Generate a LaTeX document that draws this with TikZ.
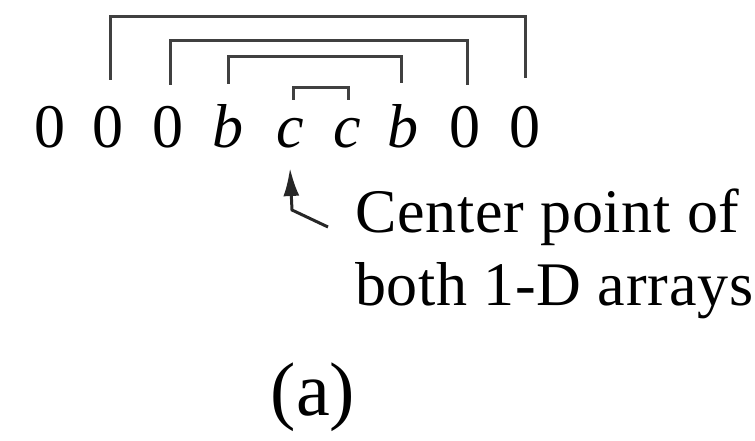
\documentclass[tikz,border=0pt]{standalone}
\usepackage{fontspec}
\setmainfont{Liberation Serif}
\usetikzlibrary{arrows.meta}
\begin{document}
\begin{tikzpicture}[x=1pt,y=-1pt,
  ch/.style={anchor=base,inner sep=0pt,font=\rmfamily\fontsize{62}{72}\selectfont},
  brk/.style={line width=3pt,draw=black!75,line join=miter},
  ptr/.style={line width=3pt,draw=black!85,-{Latex[length=28pt,width=16pt]}},
  lbl/.style={anchor=base west,inner sep=0pt,font=\rmfamily\fontsize{62}{72}\selectfont\addfontfeature{LetterSpace=1.2}},
  captext/.style={anchor=base,inner sep=0pt,font=\rmfamily\fontsize{76}{80}\selectfont}]
\useasboundingbox (0,0) rectangle (755,441);
% the sequence
\node[ch] (n1) at (50,148) {0};
\node[ch] (n2) at (108,148) {0};
\node[ch] (n3) at (168,148) {0};
\node[ch] (n4) at (228,148) {\textit{b}};
\node[ch] (n5) at (290,148) {\textit{c}};
\node[ch] (n6) at (347,148) {\textit{c}};
\node[ch] (n7) at (403,148) {\textit{b}};
\node[ch] (n8) at (465,148) {0};
\node[ch] (n9) at (525,148) {0};
% brackets
\draw[brk] ([xshift=2pt]n2 |- 0,80) -- ([xshift=2pt]n2 |- 0,17) -- (n9 |- 0,17) -- (n9 |- 0,78);
\draw[brk] ([xshift=2pt]n3 |- 0,85) -- ([xshift=2pt]n3 |- 0,41) -- ([xshift=2pt]n8 |- 0,41) -- ([xshift=2pt]n8 |- 0,85);
\draw[brk] (n4 |- 0,84) -- (n4 |- 0,57) -- ([xshift=-2pt]n7 |- 0,57) -- ([xshift=-2pt]n7 |- 0,83);
\draw[brk] ([xshift=3pt]n5 |- 0,100) -- ([xshift=3pt]n5 |- 0,88) -- ([xshift=1pt]n6 |- 0,88) -- ([xshift=1pt]n6 |- 0,100);
% label and pointer
\node[lbl] (t1) at (355,232) {Center point of};
\node[lbl] (t2) at (355,305) {both 1-D arrays};
\coordinate (a0) at (328,227);
\coordinate (a1) at (292,210);
\draw[ptr] (a0) -- (a1) -- (n5 |- 0,168);
% caption
\node[captext] (c) at (313,415) {(a)};
\end{tikzpicture}
\end{document}
